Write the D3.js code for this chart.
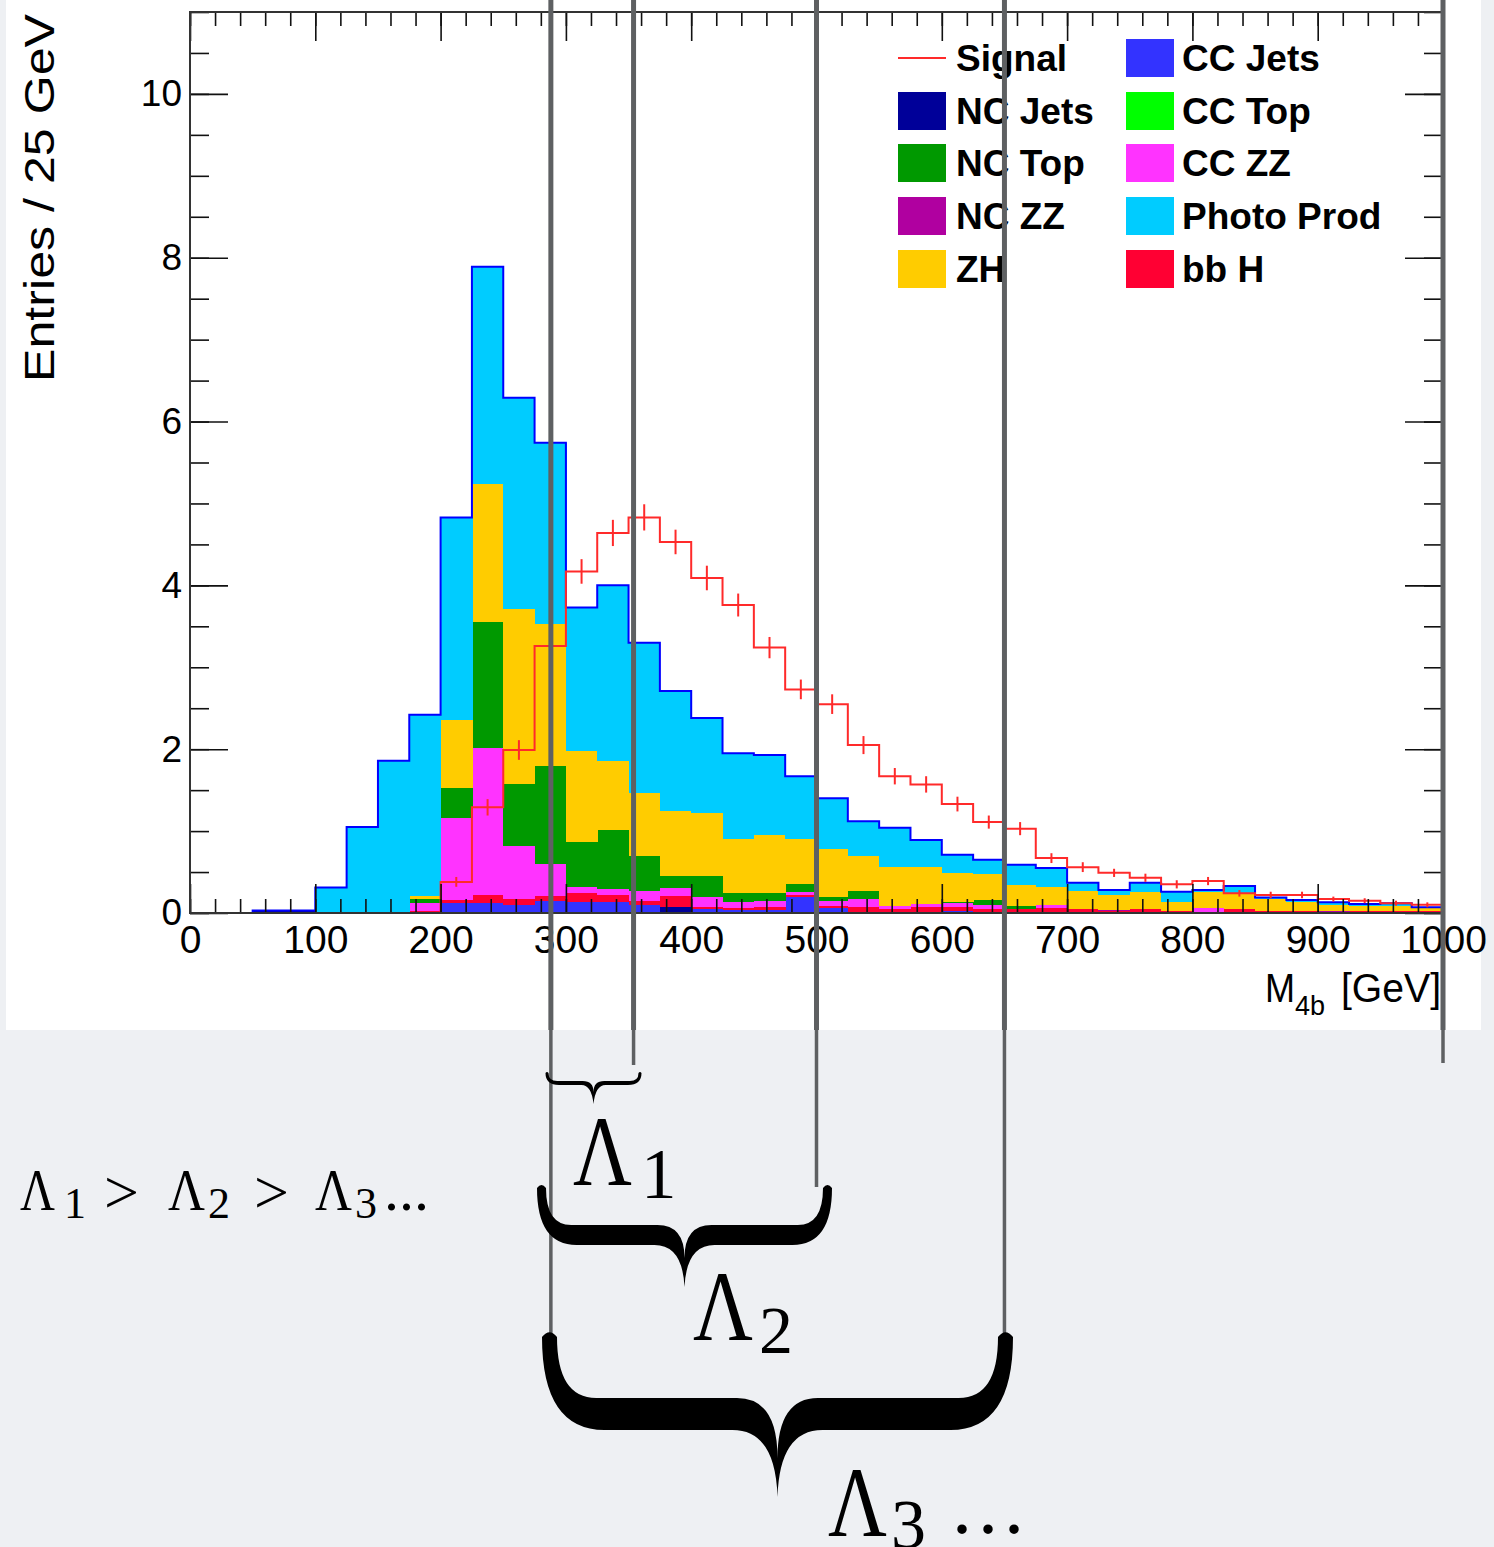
<!DOCTYPE html>
<html><head><meta charset="utf-8">
<script src="https://cdn.jsdelivr.net/npm/d3@7"></script>
<style>body{margin:0;background:#eef0f3}svg{display:block}</style>
</head><body><svg id="c" width="1494" height="1547"></svg>
<script>
// ---- data (25 GeV bins, lower edges) ----
const binLow = [0,25,50,75,100,125,150,175,200,225,250,275,300,325,350,375,400,425,450,475,
  500,525,550,575,600,625,650,675,700,725,750,775,800,825,850,875,900,925,950,975];
const ncJets = [0,0,0.03,0.03,0,0,0,0,0,0, 0,0,0,0,0,0.07,0,0,0,0, 0,0,0,0,0,0,0,0,0,0, 0,0,0,0,0,0,0,0,0,0];
const ccJets = [0,0,0,0,0,0,0,0,0.12,0.12, 0.10,0.15,0.14,0.14,0.10,0,0.05,0.04,0.04,0.20, 0.06,0,0,0,0.02,0,0,0,0,0, 0,0,0,0,0,0,0,0,0,0];
const bbH = [0,0,0,0,0,0,0,0.02,0.04,0.10, 0.07,0.06,0.10,0.08,0.05,0.14,0.02,0.02,0.03,0.02, 0.03,0.07,0.05,0.07,0.05,0.05,0.05,0.06,0.05,0.02, 0.05,0.03,0,0.05,0.02,0.02,0,0.02,0.03,0.02];
const ncZZ = [0,0,0,0,0,0,0,0,0,0, 0,0,0,0,0,0,0,0,0,0, 0,0,0,0,0,0,0,0,0,0.02, 0,0,0,0,0,0,0.02,0,0,0];
const ccZZ = [0,0,0,0,0,0,0,0.10,1.00,1.80, 0.65,0.39,0.08,0.07,0.12,0.10,0.12,0.07,0.08,0.04, 0.06,0.10,0.04,0.04,0.05,0.05,0,0.04,0,0, 0,0,0.06,0,0,0,0,0,0,0];
const ccTop = [0,0,0,0,0,0,0,0,0,0, 0,0,0,0,0,0,0,0,0,0, 0,0,0,0,0,0,0,0,0,0, 0,0,0,0,0,0,0,0,0,0];
const ncTop = [0,0,0,0,0,0,0,0.05,0.37,1.53, 0.76,1.19,0.55,0.72,0.42,0.14,0.26,0.12,0.10,0.09, 0.05,0.10,0,0,0.02,0.06,0.03,0,0,0, 0,0,0,0,0,0,0,0,0,0];
const zh = [0,0,0,0,0,0,0,0.04,0.83,1.69, 2.13,1.74,1.11,0.85,0.78,0.79,0.77,0.65,0.70,0.55, 0.58,0.42,0.47,0.45,0.35,0.32,0.26,0.22,0.22,0.18, 0.21,0.10,0.20,0.19,0.15,0.12,0.08,0.06,0.05,0.04];
const photo = [0,0,0,0,0.31,1.05,1.86,2.21,2.47,2.65, 2.58,2.21,1.75,2.14,1.83,1.47,1.16,1.05,0.98,0.77, 0.62,0.43,0.48,0.33,0.22,0.17,0.25,0.23,0.10,0.06, 0.11,0.13,0.02,0.09,0.02,0.02,0.03,0.03,0.04,0.01];
const signal = [0,0,0,0,0,0,0,0,0.38,1.29, 1.99,3.26,4.17,4.64,4.83,4.53,4.09,3.76,3.24,2.73, 2.55,2.05,1.67,1.57,1.33,1.11,1.03,0.67,0.56,0.49, 0.43,0.35,0.39,0.24,0.22,0.22,0.17,0.15,0.12,0.10];
const signalErr = [0,0,0,0,0,0,0,0,0.06,0.10, 0.12,0.14,0.15,0.16,0.16,0.15,0.15,0.14,0.13,0.12, 0.12,0.11,0.10,0.10,0.09,0.08,0.08,0.06,0.06,0.05, 0.05,0.05,0.05,0.04,0.04,0.04,0.03,0.03,0.03,0.03];
const xTickLabels = [0,100,200,300,400,500,600,700,800,900,1000];
const yTickLabels = [0,2,4,6,8,10];
const stackKeys = ["ncJets","ccJets","bbH","ncZZ","ccZZ","ccTop","ncTop","zh","photo"];
const seriesData = {ncJets, ccJets, bbH, ncZZ, ccZZ, ccTop, ncTop, zh, photo};
const seriesNames = {ncJets:"NC Jets", ccJets:"CC Jets", bbH:"bb H", ncZZ:"NC ZZ", ccZZ:"CC ZZ", ccTop:"CC Top", ncTop:"NC Top", zh:"ZH", photo:"Photo Prod"};
const legendLeft = ["signal","ncJets","ncTop","ncZZ","zh"];
const legendRight = ["ccJets","ccTop","ccZZ","photo","bbH"];
// annotation: cut windows (GeV)
const cutLines = [288, 354, 500, 650, 1000];

// ---- styles ----
const colors = {ncJets:"#000099", ccJets:"#3333ff", bbH:"#ff0033", ncZZ:"#b000a0", ccZZ:"#ff33ff",
  ccTop:"#00ff00", ncTop:"#009900", zh:"#ffcc00", photo:"#00ccff"};
const sans = "'Liberation Sans', Arial, Helvetica, sans-serif";
const serif = "'Liberation Serif', 'Times New Roman', serif";

const svg = d3.select("#c");
const W = 1494, H = 1547;
svg.append("rect").attr("width", W).attr("height", H).attr("fill", "#eef0f3");
svg.append("rect").attr("x", 6).attr("y", 0).attr("width", 1475).attr("height", 1030).attr("fill", "#ffffff");

const x = d3.scaleLinear().domain([0, 1000]).range([190, 1443]);
const y = d3.scaleLinear().domain([0, 11]).range([913, 12]);
const bw = 25;

// ---- stacked histogram ----
const rows = binLow.map((b, i) => {
  const r = {b};
  stackKeys.forEach(k => r[k] = seriesData[k][i]);
  return r;
});
const stacked = d3.stack().keys(stackKeys)(rows);
svg.append("g").attr("shape-rendering", "crispEdges")
  .selectAll("g").data(stacked).join("g").attr("fill", d => colors[d.key])
  .selectAll("rect").data(d => d.filter(s => s[1] - s[0] > 0)).join("rect")
  .attr("x", d => x(d.data.b))
  .attr("width", x(bw) - x(0) + 0.6)
  .attr("y", d => y(d[1]))
  .attr("height", d => y(d[0]) - y(d[1]));

// total outline
function stepPts(vals, startIdx) {
  const pts = [[binLow[startIdx], 0]];
  for (let i = startIdx; i < vals.length; i++) {
    pts.push([binLow[i], vals[i]]);
    pts.push([binLow[i] + bw, vals[i]]);
  }
  pts.push([binLow[vals.length - 1] + bw, 0]);
  return pts;
}
const totals = binLow.map((b, i) => d3.sum(stackKeys, k => seriesData[k][i]));
const line = d3.line().x(d => x(d[0])).y(d => y(d[1]));
svg.append("path").attr("d", line(stepPts(totals, 2)))
  .attr("fill", "none").attr("stroke", "#0000ff").attr("stroke-width", 2);

// signal
svg.append("path").attr("d", line(stepPts(signal, 8)))
  .attr("fill", "none").attr("stroke", "#ff2a2a").attr("stroke-width", 2);
svg.append("g").selectAll("line").data(binLow.map((b, i) => ({b, v: signal[i], e: signalErr[i]})).filter(d => d.v > 0))
  .join("line")
  .attr("x1", d => x(d.b + bw / 2)).attr("x2", d => x(d.b + bw / 2))
  .attr("y1", d => y(d.v - d.e)).attr("y2", d => y(d.v + d.e))
  .attr("stroke", "#ff2a2a").attr("stroke-width", 2);

// ---- axes ----
function styleAxis(g) {
  g.select(".domain").remove();
  g.selectAll(".tick line").attr("stroke", "#111").attr("stroke-width", 1.6);
}
const xMajor = x.ticks(10), xMinor = x.ticks(50);
const yMajor = y.ticks(6), yMinor = y.ticks(22);
// bottom
svg.append("g").attr("transform", `translate(0,${y(0)})`)
  .call(d3.axisBottom(x).tickValues(xMinor).tickSize(-14).tickFormat(""))
  .call(styleAxis);
const gxb = svg.append("g").attr("transform", `translate(0,${y(0)})`)
  .call(d3.axisBottom(x).tickValues(xTickLabels).tickSize(-29).tickPadding(12).tickFormat(d3.format("d")))
  .call(styleAxis);
gxb.selectAll("text").attr("font-family", sans).attr("font-size", 39).attr("fill", "#000");
// top
svg.append("g").attr("transform", `translate(0,${y(11)})`)
  .call(d3.axisTop(x).tickValues(xMinor).tickSize(-14).tickFormat("")).call(styleAxis);
svg.append("g").attr("transform", `translate(0,${y(11)})`)
  .call(d3.axisTop(x).tickValues(xMajor).tickSize(-29).tickFormat("")).call(styleAxis);
// left
svg.append("g").attr("transform", `translate(${x(0)},0)`)
  .call(d3.axisLeft(y).tickValues(yMinor).tickSize(-19).tickFormat("")).call(styleAxis);
const gyl = svg.append("g").attr("transform", `translate(${x(0)},0)`)
  .call(d3.axisLeft(y).tickValues(yTickLabels).tickSize(-38).tickPadding(8).tickFormat(d3.format("d")))
  .call(styleAxis);
gyl.selectAll("text").attr("font-family", sans).attr("font-size", 37).attr("fill", "#000");
// right
svg.append("g").attr("transform", `translate(${x(1000)},0)`)
  .call(d3.axisRight(y).tickValues(yMinor).tickSize(-19).tickFormat("")).call(styleAxis);
svg.append("g").attr("transform", `translate(${x(1000)},0)`)
  .call(d3.axisRight(y).tickValues(yMajor).tickSize(-38).tickFormat("")).call(styleAxis);
// frame
svg.append("rect").attr("x", x(0)).attr("y", y(11)).attr("width", x(1000) - x(0)).attr("height", y(0) - y(11))
  .attr("fill", "none").attr("stroke", "#333").attr("stroke-width", 2);

// axis titles
svg.append("text").attr("transform", "translate(54,198) rotate(-90)")
  .attr("text-anchor", "middle").attr("font-family", sans).attr("font-size", 43)
  .attr("textLength", 368).attr("lengthAdjust", "spacingAndGlyphs").text("Entries / 25 GeV");
svg.append("text").attr("x", 1265).attr("y", 1002).attr("font-family", sans).attr("font-size", 40)
  .attr("textLength", 30).attr("lengthAdjust", "spacingAndGlyphs").text("M");
svg.append("text").attr("x", 1295).attr("y", 1015).attr("font-family", sans).attr("font-size", 27).text("4b");
svg.append("text").attr("x", 1341).attr("y", 1002).attr("font-family", sans).attr("font-size", 40)
  .attr("textLength", 100).attr("lengthAdjust", "spacingAndGlyphs").text("[GeV]");

// ---- legend ----
const rowY = [58, 111, 163, 216, 269];
const lg = svg.append("g").attr("font-family", sans).attr("font-weight", "bold").attr("font-size", 37);
function legendCol(keys, bx, tx) {
  keys.forEach((k, i) => {
    if (k === "signal") {
      lg.append("line").attr("x1", bx).attr("x2", bx + 48).attr("y1", rowY[i]).attr("y2", rowY[i])
        .attr("stroke", "#ff2a2a").attr("stroke-width", 2);
      lg.append("text").attr("x", tx).attr("y", rowY[i] + 13).text("Signal");
    } else {
      lg.append("rect").attr("x", bx).attr("y", rowY[i] - 19).attr("width", 48).attr("height", 38)
        .attr("fill", colors[k]);
      lg.append("text").attr("x", tx).attr("y", rowY[i] + 13).text(seriesNames[k]);
    }
  });
}
legendCol(legendLeft, 898, 956);
legendCol(legendRight, 1126, 1182);

// ---- annotation lines ----
const lineEnds = [1345, 1065, 1187, 1335, 1063];
const ag = svg.append("g");
cutLines.forEach((v, i) => {
  ag.append("line").attr("x1", x(v)).attr("x2", x(v)).attr("y1", 0).attr("y2", Math.min(1030, lineEnds[i]))
    .attr("stroke", "#5e6062").attr("stroke-width", 5);
  if (lineEnds[i] > 1030)
    ag.append("line").attr("x1", x(v)).attr("x2", x(v)).attr("y1", 1030).attr("y2", lineEnds[i])
      .attr("stroke", "#5e6062").attr("stroke-width", 3.5);
  else
    ag.append("line").attr("x1", x(v)).attr("x2", x(v)).attr("y1", 1028).attr("y2", lineEnds[i])
      .attr("stroke", "#5e6062").attr("stroke-width", 3.5);
});

// ---- braces ----
function bracePath(x0, x1, yTop, yF, t, yTip, yCusp, te, Rl, Rm) {
  const xm = (x0 + x1) / 2, yB = yF + t / 2, yT = yF - t / 2, h = te / 2;
  return `M${x0-h},${yTop} Q${x0-h},${yB} ${x0+Rl},${yB} L${xm-Rm},${yB}
    Q${xm-2},${yB} ${xm},${yTip} Q${xm+2},${yB} ${xm+Rm},${yB} L${x1-Rl},${yB}
    Q${x1+h},${yB} ${x1+h},${yTop} Q${x1},${yTop-h*1.3} ${x1-h},${yTop}
    Q${x1-h},${yT} ${x1-Rl*0.85},${yT} L${xm+Rm*0.9},${yT} Q${xm},${yT} ${xm},${yCusp}
    Q${xm},${yT} ${xm-Rm*0.9},${yT} L${x0+Rl*0.85},${yT} Q${x0+h},${yT} ${x0+h},${yTop}
    Q${x0},${yTop-h*1.3} ${x0-h},${yTop} Z`;
}
svg.append("path").attr("d", bracePath(547, 640, 1073, 1083, 4, 1104, 1092, 3, 12, 12)).attr("fill", "#000");
svg.append("path").attr("d", bracePath(541.5, 827.5, 1188, 1235, 20, 1287, 1258, 9, 35, 30)).attr("fill", "#000");
svg.append("path").attr("d", bracePath(549.5, 1005.5, 1337, 1414, 32, 1497, 1458, 15, 55, 45)).attr("fill", "#000");

// ---- Lambda labels ----
const tg = svg.append("g").attr("font-family", serif).attr("fill", "#000");
function lam(xL, base, w, size, sub, xs, bs, ss) {
  tg.append("text").attr("x", xL).attr("y", base).attr("font-size", size)
    .attr("textLength", w).attr("lengthAdjust", "spacingAndGlyphs").text("Λ");
  tg.append("text").attr("x", xs).attr("y", bs).attr("font-size", ss).text(sub);
}
lam(573, 1185, 59, 100, "1", 641, 1198, 71);
lam(693, 1340, 60, 100, "2", 759, 1353, 68);
lam(828, 1536, 59, 100, "3", 891, 1548, 70);
tg.append("text").attr("x", 952).attr("y", 1533).attr("font-size", 80)
  .attr("textLength", 72).attr("lengthAdjust", "spacing").text("...");

// left inequality
lam(20, 1210, 35, 60, "1", 64, 1218, 44);
tg.append("text").attr("x", 104).attr("y", 1213).attr("font-size", 62).text(">");
lam(168, 1210, 37, 60, "2", 208, 1218, 44);
tg.append("text").attr("x", 254).attr("y", 1213).attr("font-size", 62).text(">");
lam(315, 1210, 37, 60, "3", 355, 1218, 44);
tg.append("text").attr("x", 384).attr("y", 1210).attr("font-size", 60).text("...");
</script></body></html>
